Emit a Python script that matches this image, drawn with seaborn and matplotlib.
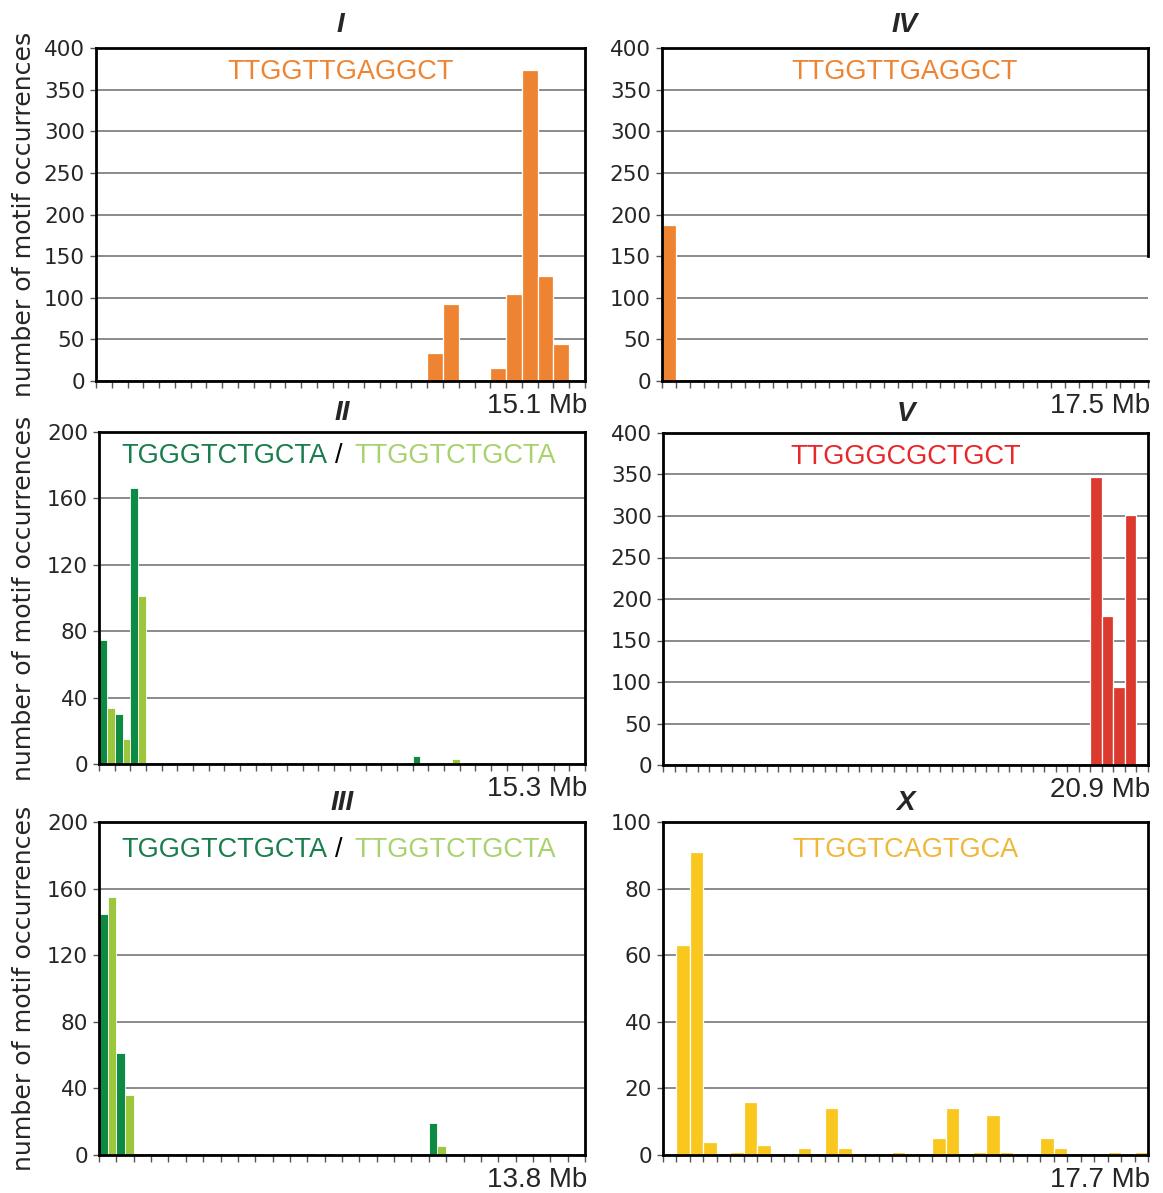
import numpy as np
import pandas as pd
import matplotlib
matplotlib.use("Agg")
import matplotlib.pyplot as plt
import seaborn as sns

# ---------------- data (counts per 0.5 Mb bin) ----------------
chrI_counts = [0, 0, 0, 0, 0, 0, 0, 0, 0, 0,
               0, 0, 0, 0, 0, 0, 0, 0, 0, 0,
               0, 34, 93, 0, 0, 16, 105, 374, 126, 45,
               0]
chrIV_counts = [187, 0, 0, 0, 0, 0, 0, 0, 0, 0,
                0, 0, 0, 0, 0, 0, 0, 0, 0, 0,
                0, 0, 0, 0, 0, 0, 0, 0, 0, 0,
                0, 0, 0, 0, 0]
chrII_dark = [75, 30, 166, 0, 0, 0, 0, 0, 0, 0,
              0, 0, 0, 0, 0, 0, 0, 0, 0, 0.5,
              5, 0, 0, 0, 0, 0, 0, 0, 0, 0,
              0]
chrII_light = [34, 15, 101, 0, 0, 0, 0, 0, 0, 0,
               0, 0, 0, 0, 0, 0, 0, 0, 0, 0,
               0, 1.5, 3, 0, 0, 0, 0, 1, 0, 0,
               0]
chrV_counts = [0, 0, 0, 0, 0, 0, 0, 0, 0, 0,
               0, 0, 0, 0, 0, 0, 0, 0, 0, 0,
               0, 0, 0, 0, 0, 0, 0, 0, 0, 0,
               0, 0, 0, 0, 0, 0, 0, 347, 180, 94,
               301, 0]
chrIII_dark = [145, 61, 0, 0, 0, 0, 0, 0, 0, 0,
               0, 0, 0, 0, 0, 0, 0, 0, 0, 19,
               0, 0, 0, 0, 0, 0, 0, 0]
chrIII_light = [155, 36, 0, 0, 0, 0, 0, 0, 0, 0.7,
                0, 0, 0.7, 0.7, 0, 0, 0, 0, 0, 5.5,
                0, 0, 0, 0, 0, 0, 0, 0]
chrX_counts = [0, 63, 91, 4, 0, 1, 16, 3, 0, 0,
               2, 0, 14, 2, 0, 0, 0, 1, 0, 0,
               5, 14, 0, 1, 12, 1, 0, 0, 5, 2,
               0, 0, 0, 1, 0, 1]

chrom_names = ["I", "IV", "II", "V", "III", "X"]
chrom_lengths = ["15.1 Mb", "17.5 Mb", "15.3 Mb", "20.9 Mb", "13.8 Mb", "17.7 Mb"]
motif_single = {"I": "TTGGTTGAGGCT", "IV": "TTGGTTGAGGCT",
                "V": "TTGGGCGCTGCT", "X": "TTGGTCAGTGCA"}
motif_pair = ["TGGGTCTGCTA", "TTGGTCTGCTA"]
y_max = {"I": 400, "IV": 400, "II": 200, "V": 400, "III": 200, "X": 100}
y_step = {"I": 50, "IV": 50, "II": 40, "V": 50, "III": 40, "X": 20}

# ---------------- style ----------------
sns.set_style("white")
plt.rcParams["font.family"] = ["DejaVu Sans"]

ORANGE = "#EE8431"
RED_BAR, RED_TXT = "#DC3A2E", "#E8272B"
YEL_BAR, YEL_TXT = "#FAC71E", "#F0B73A"
DKG_BAR, DKG_TXT = "#0D8A44", "#187E4C"
LTG_BAR, LTG_TXT = "#9CC73D", "#A8D26E"
bar_color = {"I": ORANGE, "IV": ORANGE, "V": RED_BAR, "X": YEL_BAR}
txt_color = {"I": ORANGE, "IV": ORANGE, "V": RED_TXT, "X": YEL_TXT}

W, H = 1163, 1193
fig = plt.figure(figsize=(W / 100, H / 100), dpi=100)

# axes boxes in pixels (left, top, right, bottom)
boxes = {"I": (96, 48, 585, 381), "IV": (662, 48, 1148, 381),
         "II": (99, 432, 585, 764), "V": (663, 433, 1148, 765),
         "III": (99, 822, 585, 1155), "X": (663, 822, 1148, 1155)}

single_data = {"I": chrI_counts, "IV": chrIV_counts, "V": chrV_counts, "X": chrX_counts}
pair_data = {"II": (chrII_dark, chrII_light), "III": (chrIII_dark, chrIII_light)}

for name, length in zip(chrom_names, chrom_lengths):
    l, t, r, b = boxes[name]
    ax = fig.add_axes([l / W, 1 - b / H, (r - l) / W, (b - t) / H])
    if name in single_data:
        vals = single_data[name]
        n = len(vals)
        df = pd.DataFrame({"bin": np.arange(n), "count": vals})
        sns.barplot(data=df, x="bin", y="count", color=bar_color[name],
                    width=1.0, edgecolor="white", linewidth=0.9,
                    errorbar=None, saturation=1, ax=ax)
    else:
        dark, light = pair_data[name]
        n = len(dark)
        df = pd.concat([
            pd.DataFrame({"bin": np.arange(n), "count": dark, "motif": motif_pair[0]}),
            pd.DataFrame({"bin": np.arange(n), "count": light, "motif": motif_pair[1]}),
        ], ignore_index=True)
        sns.barplot(data=df, x="bin", y="count", hue="motif",
                    hue_order=motif_pair, palette=[DKG_BAR, LTG_BAR],
                    width=1.0, dodge=True, edgecolor="white", linewidth=0.6,
                    errorbar=None, saturation=1, legend=False, ax=ax)

    ax.set_xlim(-0.5, n - 0.5)
    ax.set_ylim(0, y_max[name])
    ax.set_yticks(np.arange(0, y_max[name] + 1, y_step[name]))
    ax.set_xticks([])
    ax.set_xticks(np.arange(n + 1) - 0.5, minor=True)
    ax.tick_params(axis="x", which="minor", bottom=True, length=5, width=1,
                   color="#555555", direction="out")
    ax.tick_params(axis="y", which="major", left=True, length=4, width=1,
                   color="#555555", pad=4, labelsize=15.5)
    ax.set_xlabel("")
    ax.yaxis.grid(True, color="#777777", linewidth=1.2)
    ax.xaxis.grid(False)
    ax.set_axisbelow(True)
    for s in ax.spines.values():
        s.set_visible(True)
        s.set_color("black")
        s.set_linewidth(2)
    if name == "IV":
        ax.spines["right"].set_bounds(150, 400)

    if name in ("I", "II", "III"):
        ax.set_ylabel("number of motif occurrences", fontsize=18.2)
        ax.yaxis.set_label_coords((24 - l) / (r - l), 0.5)
        ax.yaxis.label.set_verticalalignment("center")
    else:
        ax.set_ylabel("")

    pad = 11.5 if name in ("I", "IV") else 8.5
    ax.set_title(name, fontsize=20, fontweight="bold", fontstyle="italic",
                 family=["Liberation Sans"], pad=pad)

    ytxt = 0.928 if name in ("I", "IV", "II", "V") else 0.916
    if name in motif_single:
        ax.text(0.5, ytxt, motif_single[name], transform=ax.transAxes,
                ha="center", va="center", fontsize=19.5, color=txt_color[name],
                family=["Liberation Sans"])
    else:
        ax.text((328 - l) / (r - l), ytxt, motif_pair[0], transform=ax.transAxes,
                ha="right", va="center", fontsize=19.5, color=DKG_TXT,
                family=["Liberation Sans"])
        ax.text((339 - l) / (r - l), ytxt, "/", transform=ax.transAxes,
                ha="center", va="center", fontsize=19.5, color="black",
                family=["Liberation Sans"])
        ax.text((354 - l) / (r - l), ytxt, motif_pair[1], transform=ax.transAxes,
                ha="left", va="center", fontsize=19.5, color=LTG_TXT,
                family=["Liberation Sans"])

    ax.text(1.005, -0.097, length, transform=ax.transAxes, ha="right",
            va="baseline", fontsize=20, family=["Liberation Sans"])

fig.savefig("out.png", dpi=100, facecolor="white")
